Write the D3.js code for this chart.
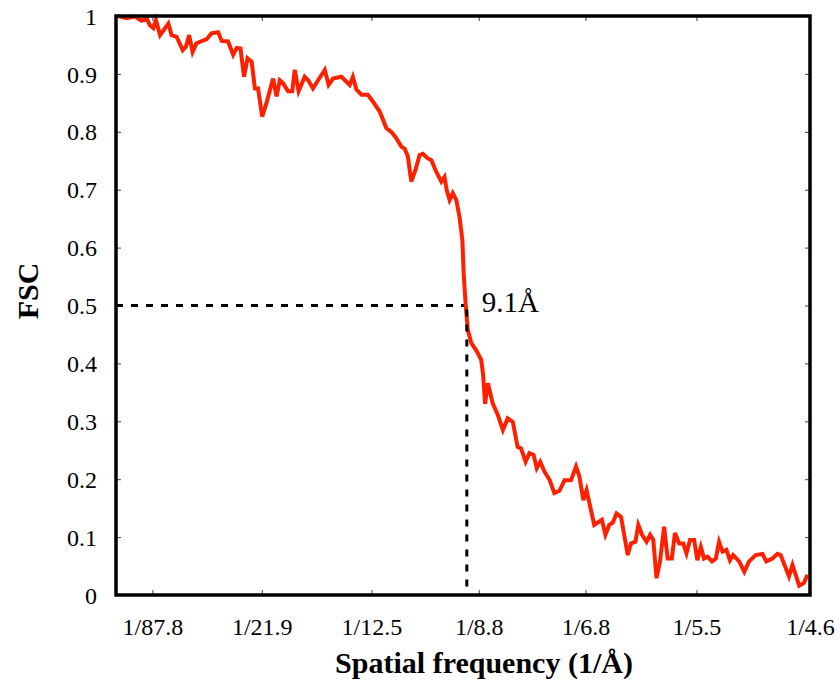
<!DOCTYPE html>
<meta charset="utf-8">
<style>
  body { margin: 0; background: #fff; }
  text { font-family: "Liberation Serif", "Times New Roman", serif; }
</style>
<script src="https://d3js.org/d3.v7.min.js"></script>
<body>
<script>

var width = 840,
    height = 694;

// spatial frequency (1/Å) and FSC
var freq = [0.0006,0.0034,0.0059,0.0080,0.0096,0.0106,0.0117,0.0125,0.0138,0.0164,
            0.0174,0.0190,0.0209,0.0219,0.0229,0.0240,0.0252,0.0284,0.0299,0.0320,
            0.0331,0.0351,0.0367,0.0378,0.0390,0.0401,0.0412,0.0425,0.0435,0.0445,
            0.0458,0.0471,0.0492,0.0503,0.0513,0.0523,0.0539,0.0552,0.0560,0.0572,
            0.0591,0.0602,0.0617,0.0633,0.0654,0.0666,0.0680,0.0706,0.0732,0.0742,
            0.0753,0.0769,0.0789,0.0805,0.0826,0.0847,0.0862,0.0878,0.0894,0.0904,
            0.0914,0.0925,0.0938,0.0951,0.0961,0.0977,0.0988,0.1003,0.1019,0.1029,
            0.1036,0.1045,0.1055,0.1066,0.1076,0.1085,0.1089,0.1095,0.1102,0.1113,
            0.1128,0.1144,0.1150,0.1156,0.1165,0.1180,0.1196,0.1212,0.1227,0.1243,
            0.1258,0.1269,0.1283,0.1295,0.1308,0.1318,0.1329,0.1342,0.1358,0.1373,
            0.1389,0.1405,0.1425,0.1441,0.1451,0.1464,0.1474,0.1498,0.1522,0.1533,
            0.1545,0.1556,0.1568,0.1582,0.1603,0.1613,0.1627,0.1636,0.1648,0.1662,
            0.1673,0.1683,0.1693,0.1704,0.1717,0.1728,0.1741,0.1751,0.1764,0.1777,
            0.1787,0.1798,0.1811,0.1821,0.1832,0.1842,0.1853,0.1867,0.1879,0.1889,
            0.1900,0.1912,0.1923,0.1933,0.1952,0.1968,0.1983,0.2004,0.2025,0.2037,
            0.2056,0.2072,0.2082,0.2108,0.2119,0.2140,0.2155,0.2166];
var fsc = [1.000,0.996,0.999,0.992,0.996,0.984,0.979,0.993,0.967,0.987,
           0.967,0.964,0.941,0.947,0.967,0.938,0.953,0.960,0.970,0.972,
           0.957,0.956,0.933,0.945,0.944,0.895,0.927,0.921,0.875,0.875,
           0.826,0.849,0.892,0.861,0.889,0.884,0.870,0.870,0.907,0.870,
           0.895,0.889,0.875,0.889,0.907,0.881,0.892,0.895,0.881,0.895,
           0.873,0.864,0.864,0.852,0.835,0.806,0.800,0.789,0.774,0.771,
           0.758,0.714,0.734,0.760,0.762,0.754,0.751,0.731,0.714,0.722,
           0.699,0.682,0.694,0.682,0.653,0.613,0.556,0.504,0.458,0.435,
           0.423,0.406,0.380,0.330,0.366,0.331,0.311,0.285,0.305,0.299,
           0.256,0.253,0.230,0.245,0.242,0.219,0.230,0.213,0.199,0.176,
           0.180,0.198,0.198,0.222,0.206,0.164,0.181,0.121,0.130,0.104,
           0.121,0.125,0.141,0.135,0.069,0.089,0.092,0.121,0.104,0.092,
           0.104,0.095,0.029,0.058,0.118,0.063,0.063,0.107,0.089,0.089,
           0.072,0.095,0.095,0.060,0.083,0.063,0.066,0.058,0.063,0.092,
           0.075,0.078,0.060,0.069,0.058,0.040,0.058,0.069,0.071,0.058,
           0.063,0.071,0.069,0.032,0.052,0.016,0.021,0.035];

var xTickLabels = ["1/87.8","1/21.9","1/12.5","1/8.8","1/6.8","1/5.5","1/4.6"];
var yTicks = [0,0.1,0.2,0.3,0.4,0.5,0.6,0.7,0.8,0.9,1];
var cutoff = 0.5,
    resolution = 9.1;

var margin = {left:116, right:30, top:16, bottom:99};

var x = d3.scaleLinear()
    .domain([0, 1/4.6])
    .range([margin.left, width-margin.right]);
var y = d3.scaleLinear()
    .domain([0, 1])
    .range([height-margin.bottom, margin.top]);

var xTicks = xTickLabels.map(function(d){return 1/(+d.split("/")[1]);});

var svg = d3.select("body").append("svg")
    .attr("width", width)
    .attr("height", height);

// inward ticks on all four sides
var tickLen = 5;
function ticks(g){ g.select(".domain").remove(); g.selectAll(".tick line").attr("stroke","#444").attr("stroke-width",1); }

svg.append("g")
    .attr("transform","translate(0,"+y(0)+")")
    .call(d3.axisBottom(x).tickValues(xTicks).tickSize(-tickLen).tickFormat(function(d,i){return xTickLabels[i];}))
    .call(ticks)
    .selectAll("text")
      .attr("y",40).attr("dy",0)
      .attr("font-size",24).attr("fill","#000");
svg.append("g")
    .attr("transform","translate(0,"+y(1)+")")
    .call(d3.axisTop(x).tickValues(xTicks).tickSize(-tickLen).tickFormat(""))
    .call(ticks);
svg.append("g")
    .attr("transform","translate("+x(0)+",0)")
    .call(d3.axisLeft(y).tickValues(yTicks).tickSize(-tickLen).tickFormat(d3.format("")))
    .call(ticks)
    .selectAll("text")
      .attr("x",-19).attr("dy","0.34em")
      .attr("font-size",24).attr("fill","#000");
svg.append("g")
    .attr("transform","translate("+x(1/4.6)+",0)")
    .call(d3.axisRight(y).tickValues(yTicks).tickSize(-tickLen).tickFormat(""))
    .call(ticks);

// curve
var data = freq.map(function(f,i){return {f:f, v:fsc[i]};});
var line = d3.line()
    .x(function(d){return x(d.f);})
    .y(function(d){return y(d.v);});

svg.append("path")
    .datum(data)
    .attr("d", line)
    .attr("fill","none")
    .attr("stroke","#ff2000")
    .attr("stroke-width",4)
    .attr("stroke-linejoin","miter");

// 0.5 threshold marker
svg.append("line")
    .attr("x1",x(0)).attr("x2",x(1/resolution)-3)
    .attr("y1",y(cutoff)).attr("y2",y(cutoff))
    .attr("stroke","#000").attr("stroke-width",3)
    .attr("stroke-dasharray","7,8");
svg.append("line")
    .attr("x1",x(1/resolution)).attr("x2",x(1/resolution))
    .attr("y1",y(cutoff)+4).attr("y2",y(0))
    .attr("stroke","#000").attr("stroke-width",3)
    .attr("stroke-dasharray","7,8");
svg.append("text")
    .attr("x",x(1/resolution)+15)
    .attr("y",y(cutoff)+6)
    .attr("font-size",29)
    .text(resolution+"Å");

// frame
svg.append("rect")
    .attr("x",x(0)).attr("y",y(1))
    .attr("width",x(1/4.6)-x(0)).attr("height",y(0)-y(1))
    .attr("fill","none")
    .attr("stroke","#000").attr("stroke-width",3.5);

// axis titles
svg.append("text")
    .attr("x",484).attr("y",673)
    .attr("text-anchor","middle")
    .attr("font-size",30).attr("font-weight","bold")
    .text("Spatial frequency (1/Å)");
svg.append("text")
    .attr("transform","translate(38,291) rotate(-90)")
    .attr("text-anchor","middle")
    .attr("font-size",30).attr("font-weight","bold")
    .text("FSC");

</script>
</body>
